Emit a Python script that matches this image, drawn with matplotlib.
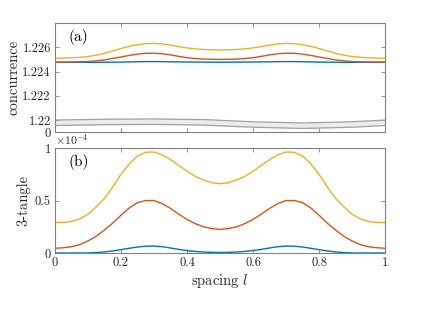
import numpy as np
import matplotlib
matplotlib.use("Agg")
import matplotlib.pyplot as plt

plt.rcParams['font.family'] = ['cmr10', 'DejaVu Serif']
plt.rcParams['mathtext.fontset'] = 'cm'
plt.rcParams['axes.formatter.use_mathtext'] = True

# spacing values (half range, mirrored symmetric about 0.5)
x_half = [0.0, 0.025, 0.05, 0.075, 0.1, 0.125, 0.15, 0.175, 0.2, 0.225, 0.25,
          0.275, 0.3, 0.325, 0.35, 0.375, 0.4, 0.425, 0.45, 0.475, 0.5]

# concurrence (offset from 1.22, in units of 1e-3)
conc_yellow = [5.10, 5.11, 5.13, 5.17, 5.24, 5.35, 5.50, 5.70, 5.90, 6.08, 6.22,
               6.30, 6.32, 6.28, 6.18, 6.05, 5.95, 5.87, 5.82, 5.79, 5.78]
conc_red = [4.78, 4.78, 4.79, 4.80, 4.83, 4.88, 4.96, 5.08, 5.20, 5.33, 5.44,
            5.50, 5.51, 5.47, 5.37, 5.25, 5.14, 5.07, 5.03, 5.01, 5.00]
conc_blue = [4.76, 4.76, 4.76, 4.76, 4.76, 4.762, 4.765, 4.772, 4.78, 4.795, 4.81,
             4.818, 4.82, 4.815, 4.80, 4.792, 4.785, 4.78, 4.775, 4.772, 4.77]

# 3-tangle (units of 1e-4)
tang_yellow = [0.29, 0.292, 0.30, 0.325, 0.37, 0.44, 0.52, 0.63, 0.75, 0.85, 0.925,
               0.96, 0.962, 0.935, 0.89, 0.835, 0.78, 0.73, 0.695, 0.67, 0.66]
tang_red = [0.045, 0.05, 0.06, 0.08, 0.115, 0.16, 0.22, 0.285, 0.36, 0.43, 0.48,
            0.50, 0.50, 0.47, 0.425, 0.37, 0.32, 0.28, 0.25, 0.233, 0.225]
tang_blue = [0.0, 0.0, 0.0, 0.0, 0.0, 0.004, 0.01, 0.02, 0.032, 0.045, 0.057,
             0.065, 0.066, 0.06, 0.048, 0.034, 0.023, 0.015, 0.009, 0.006, 0.005]

# axis break band (decoration)
band_x = [0.0, 0.15, 0.3, 0.45, 0.6, 0.75, 0.9, 1.0]
band_top = [1.21999, 1.22006, 1.22008, 1.22003, 1.21985, 1.21975, 1.21985, 1.21999]

def mirror(v):
    v = list(v)
    return np.array(v + v[-2::-1])

x = np.array(list(x_half) + [1 - v for v in x_half[-2::-1]])

colors = {'blue': '#0072BD', 'red': '#D95319', 'yellow': '#EDB120'}
spine_c = '#808080'
text_c = '#262626'

fig = plt.figure(figsize=(4.25, 3.19), dpi=100)
ax1 = fig.add_axes([0.1294, 0.586, 0.7765, 0.3417])
ax2 = fig.add_axes([0.1294, 0.2069, 0.7765, 0.329])

for name, vals in [('blue', conc_blue), ('red', conc_red), ('yellow', conc_yellow)]:
    ax1.plot(x, 1.22 + mirror(vals) * 1e-3, color=colors[name], lw=1.0)

bt = np.array(band_top)
ax1.fill_between(band_x, bt - 0.00045, bt, color='#ececec', lw=0)
ax1.plot(band_x, bt, color='#a0a0a0', lw=0.9)
ax1.plot(band_x, bt - 0.00045, color='#a0a0a0', lw=0.9)

ax1.set_xlim(0, 1)
ax1.set_ylim(1.219, 1.228)
ax1.set_yticks([1.219, 1.22, 1.222, 1.224, 1.226])
ax1.set_yticklabels(['0', '1.22', '1.222', '1.224', '1.226'])
ax1.set_xticks([0, 0.2, 0.4, 0.6, 0.8, 1])
ax1.set_xticklabels([])
ax1.set_ylabel('concurrence', fontsize=10.5, color=text_c, labelpad=1)
ax1.text(0.04, 0.87, '(a)', transform=ax1.transAxes, fontsize=11, color='black', va='center')

for name, vals in [('blue', tang_blue), ('red', tang_red), ('yellow', tang_yellow)]:
    ax2.plot(x, mirror(vals), color=colors[name], lw=1.0)

ax2.set_xlim(0, 1)
ax2.set_ylim(0, 1)
ax2.set_yticks([0, 0.5, 1])
ax2.set_yticklabels(['0', '0.5', '1'])
ax2.set_xticks([0, 0.2, 0.4, 0.6, 0.8, 1])
ax2.set_xticklabels(['0', '0.2', '0.4', '0.6', '0.8', '1'])
ax2.set_ylabel('3-tangle', fontsize=10.5, color=text_c, labelpad=3)
ax2.set_xlabel('spacing $l$', fontsize=10.5, color=text_c, labelpad=2)
ax2.text(0.0, 1.01, r'$\times10^{-4}$', transform=ax2.transAxes, fontsize=8.5, color=text_c, va='bottom')
ax2.text(0.04, 0.87, '(b)', transform=ax2.transAxes, fontsize=11, color='black', va='center')

for ax in (ax1, ax2):
    for s in ax.spines.values():
        s.set_color(spine_c)
        s.set_linewidth(0.8)
    ax.tick_params(direction='in', top=True, right=True, length=3, width=0.6,
                   color=spine_c, labelcolor=text_c, labelsize=9, pad=3)

fig.savefig('out.png', dpi=100)
